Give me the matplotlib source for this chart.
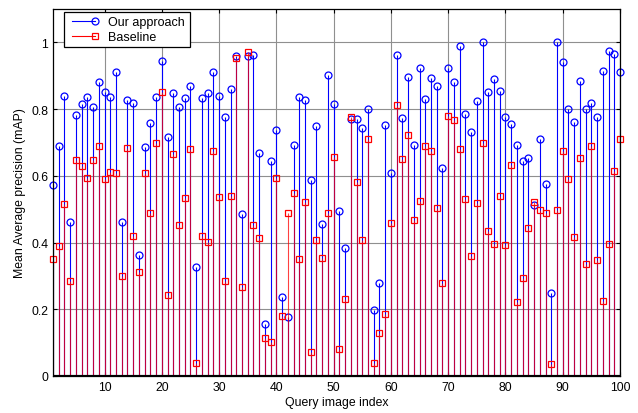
import numpy as np
import matplotlib.pyplot as plt
from matplotlib.lines import Line2D
from matplotlib.legend_handler import HandlerLine2D

# query index 1..100
query_idx = np.arange(1, 101)

# mAP of our approach (blue circles)
ours = [0.573, 0.690, 0.839, 0.463, 0.783, 0.815, 0.836, 0.807, 0.880, 0.850,
        0.836, 0.912, 0.462, 0.826, 0.819, 0.364, 0.685, 0.758, 0.837, 0.945,
        0.717, 0.847, 0.805, 0.833, 0.870, 0.326, 0.833, 0.847, 0.910, 0.838,
        0.777, 0.860, 0.960, 0.487, 0.960, 0.962, 0.667, 0.155, 0.644, 0.738,
        0.238, 0.178, 0.693, 0.836, 0.828, 0.587, 0.748, 0.457, 0.902, 0.815,
        0.495, 0.384, 0.770, 0.770, 0.743, 0.800, 0.198, 0.280, 0.752, 0.608,
        0.962, 0.774, 0.897, 0.691, 0.922, 0.829, 0.893, 0.870, 0.623, 0.922,
        0.881, 0.990, 0.786, 0.732, 0.824, 1.000, 0.850, 0.890, 0.855, 0.777,
        0.756, 0.693, 0.643, 0.652, 0.513, 0.710, 0.576, 0.250, 1.000, 0.940,
        0.800, 0.760, 0.884, 0.800, 0.818, 0.777, 0.915, 0.973, 0.965, 0.912]

# mAP of the baseline (red squares)
baseline = [0.352, 0.389, 0.516, 0.284, 0.648, 0.628, 0.594, 0.648, 0.688, 0.589,
            0.610, 0.608, 0.300, 0.683, 0.419, 0.311, 0.608, 0.488, 0.699, 0.852,
            0.243, 0.666, 0.454, 0.534, 0.681, 0.038, 0.420, 0.402, 0.675, 0.537,
            0.285, 0.540, 0.952, 0.267, 0.970, 0.452, 0.413, 0.114, 0.103, 0.592,
            0.180, 0.490, 0.548, 0.350, 0.522, 0.072, 0.407, 0.353, 0.490, 0.657,
            0.082, 0.232, 0.777, 0.582, 0.408, 0.711, 0.040, 0.129, 0.187, 0.460,
            0.811, 0.650, 0.722, 0.468, 0.525, 0.689, 0.673, 0.504, 0.279, 0.779,
            0.768, 0.681, 0.531, 0.359, 0.519, 0.699, 0.435, 0.397, 0.540, 0.393,
            0.631, 0.223, 0.295, 0.443, 0.522, 0.499, 0.488, 0.035, 0.497, 0.675,
            0.591, 0.417, 0.654, 0.336, 0.688, 0.347, 0.225, 0.397, 0.615, 0.711]


class RightMarker(HandlerLine2D):
    # legend sample with the marker only at the right end of the line
    def create_artists(self, *args, **kwargs):
        arts = super().create_artists(*args, **kwargs)
        for a in arts:
            if isinstance(a, Line2D) and len(a.get_xdata()) > 1:
                a.set_markevery([len(a.get_xdata()) - 1])
        return arts


plt.rcParams['font.family'] = ['Liberation Sans', 'DejaVu Sans']
plt.rcParams['font.size'] = 8.8

fig = plt.figure(figsize=(6.38, 4.14), dpi=100)
ax = fig.add_axes([0.0831, 0.0894, 0.8887, 0.8864])

ax.grid(True, color='#8f8f8f', linewidth=0.8, zorder=0)
ax.set_axisbelow(True)

m1, s1, b1 = ax.stem(query_idx, ours, linefmt='b-', markerfmt='bo', basefmt='k-')
m1.set_markerfacecolor('none')
m1.set_markersize(5)
m1.set_markeredgewidth(0.9)
m1.set_clip_on(False)
s1.set_linewidth(0.8)

m2, s2, b2 = ax.stem(query_idx, baseline, linefmt='r-', markerfmt='rs', basefmt='k-')
m2.set_markerfacecolor('none')
m2.set_markersize(5)
m2.set_markeredgewidth(0.9)
m2.set_clip_on(False)
s2.set_linewidth(0.8)
s2.set_alpha(0.75)

ax.set_xlim(1, 100)
ax.set_ylim(0, 1.1)
ax.set_xticks(np.arange(10, 101, 10))
ax.set_yticks([0, 0.2, 0.4, 0.6, 0.8, 1.0])
ax.set_yticklabels(['0', '0.2', '0.4', '0.6', '0.8', '1'])
ax.tick_params(direction='in', length=3, top=True, right=True, labelsize=8.8)
for sp in ax.spines.values():
    sp.set_linewidth(0.9)
    sp.set_color('black')

ax.set_xlabel('Query image index', fontsize=8.8, labelpad=2)
ax.set_ylabel('Mean Average precision (mAP)', fontsize=8.8, labelpad=4)

handles = [Line2D([], [], color='b', marker='o', mfc='none', ms=5, mew=0.9, lw=0.8),
           Line2D([], [], color='r', marker='s', mfc='none', ms=5, mew=0.9, lw=0.8)]
leg = ax.legend(handles, ['Our approach', 'Baseline'], loc='upper left',
                bbox_to_anchor=(64 / 638, 1 - 13 / 414), bbox_transform=fig.transFigure,
                borderaxespad=0, numpoints=2, fancybox=False, edgecolor='black',
                framealpha=1, handlelength=2.4, fontsize=9, labelspacing=0.2,
                borderpad=0.35, handler_map={Line2D: RightMarker()})
leg.get_frame().set_linewidth(0.9)

fig.savefig('out.png', dpi=100)
